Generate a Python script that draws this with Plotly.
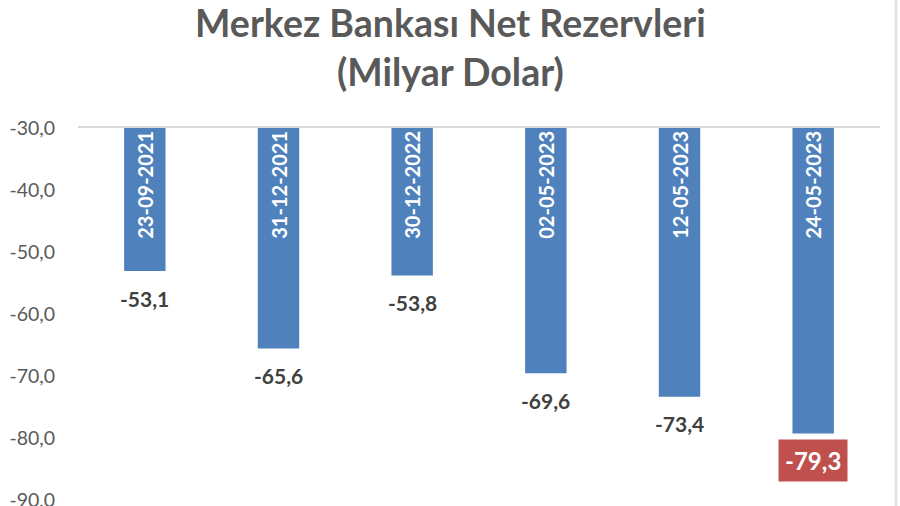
import plotly.graph_objects as go

categories = ["23-09-2021", "31-12-2021", "30-12-2022", "02-05-2023", "12-05-2023", "24-05-2023"]
values = [-53.1, -65.6, -53.8, -69.6, -73.4, -79.3]
base_value = -30.0
tick_vals = [-30, -40, -50, -60, -70, -80, -90]
tick_text = [f"{t:.1f}".replace(".", ",") for t in tick_vals]
title_line1 = "Merkez Bankası Net Rezervleri"
title_line2 = "(Milyar Dolar)"

FONT = "Lato, 'Open Sans', sans-serif"
GRAY = "#595959"
DARK = "#404040"

ML, MR, MT, MB = 78, 20, 128, 6
W, H = 900, 506
PW, PH = W - ML - MR, H - MT - MB

fig = go.Figure()
fig.add_trace(go.Bar(
    x=categories,
    y=[v - base_value for v in values],
    base=base_value,
    marker=dict(color="#4F81BD", line=dict(width=0)),
    width=0.31,
    text=categories,
    textposition="inside",
    insidetextanchor="start",
    textangle=-90,
    textfont=dict(family=FONT, size=20, color="white", weight="bold"),
    hoverinfo="skip",
))

annotations = []
for i, (c, v) in enumerate(zip(categories, values)):
    last = i == len(values) - 1
    label = f"{v:.1f}".replace(".", ",")
    annotations.append(dict(
        x=c, y=v, xref="x", yref="y", text=f"<b>{label}</b>",
        showarrow=False, yshift=-27, yanchor="middle",
        font=dict(family=FONT, size=21 if not last else 24, color="white" if last else DARK),
        bgcolor="#C0504D" if last else "rgba(0,0,0,0)",
        borderpad=6 if last else 0,
    ))

tx = (450 - ML) / PW
annotations.append(dict(x=tx, y=(H - MB - 22) / PH, xref="paper", yref="paper",
                        yanchor="middle", xanchor="center",
                        text=f"<b>{title_line1}</b>", showarrow=False,
                        font=dict(family=FONT, size=37.5, color=GRAY)))
annotations.append(dict(x=tx, y=(H - MB - 72) / PH, xref="paper", yref="paper",
                        yanchor="middle", xanchor="center",
                        text=f"<b>{title_line2}</b>", showarrow=False,
                        font=dict(family=FONT, size=37.5, color=GRAY)))

fig.update_layout(
    width=W, height=H,
    margin=dict(l=ML, r=MR, t=MT, b=MB),
    paper_bgcolor="white", plot_bgcolor="white",
    showlegend=False,
    annotations=annotations,
    xaxis=dict(showticklabels=False, showgrid=False, showline=True, side="top",
               linecolor="#D9D9D9", linewidth=2, ticks="", zeroline=False, automargin=False),
    yaxis=dict(range=[-90.05, -30], tickvals=tick_vals, ticktext=tick_text,
               showgrid=False, zeroline=False, showline=False, automargin=False,
               ticklabeloverflow="allow",
               tickfont=dict(family=FONT, size=19.5, color=GRAY),
               ticklabelstandoff=22),
)
fig.add_shape(type="line", xref="paper", yref="paper",
              x0=(896 - ML) / PW, x1=(896 - ML) / PW, y0=-0.02, y1=1.35,
              line=dict(color="#E6E6E6", width=3))

fig.write_html("out.html", config={"displayModeBar": False},
               post_script="document.body.style.margin='0';")
